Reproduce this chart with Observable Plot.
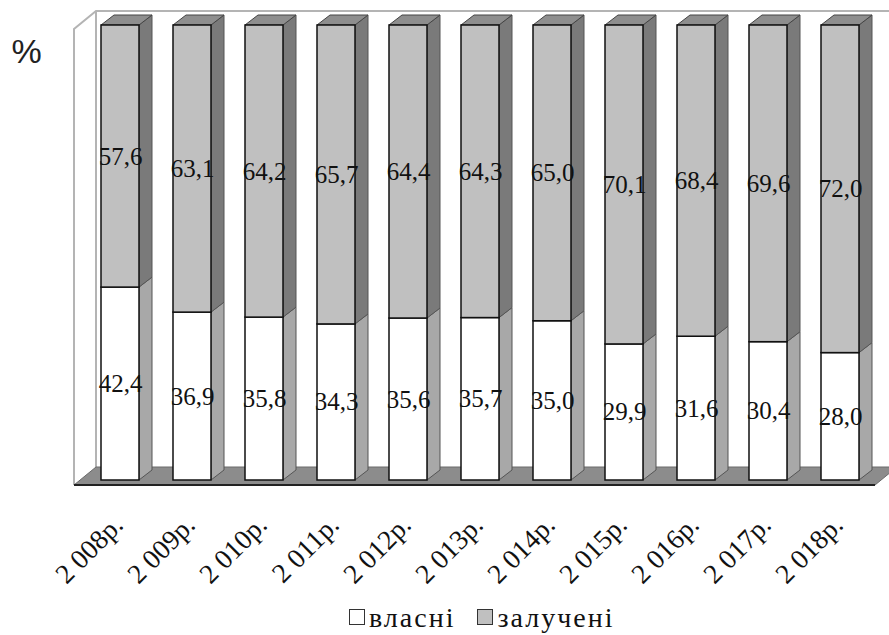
<!DOCTYPE html>
<html>
<head>
<meta charset="utf-8">
<script src="https://cdn.jsdelivr.net/npm/d3@7"></script>
<script src="https://cdn.jsdelivr.net/npm/@observablehq/plot@0.6"></script>
<style>
  html, body { margin: 0; padding: 0; background: #fff; }
  #wrap { position: relative; width: 889px; height: 635px; }
  #legend { position: absolute; left: 349px; top: 603px; height: 30px; font-family: "Liberation Serif", "Times New Roman", "DejaVu Serif", serif; font-size: 28px; letter-spacing: 2px; line-height: 30px; color: #111; display: flex; align-items: center; white-space: nowrap; }
  .sw { display: inline-block; width: 14px; height: 14px; border: 1.5px solid #333; margin-right: 4px; position: relative; top: -1px; }
</style>
</head>
<body>
<div id="wrap">
  <div id="chart"></div>
  <div id="legend">
    <span class="sw" style="background:#fff"></span><span>власні</span>
    <span style="display:inline-block;width:22px"></span>
    <span class="sw" style="background:#c0c0c0"></span><span>залучені</span>
  </div>
</div>
<script>
// Structure of financing sources, % (own vs. borrowed)
const years = ["2 008р.", "2 009р.", "2 010р.", "2 011р.", "2 012р.", "2 013р.", "2 014р.", "2 015р.", "2 016р.", "2 017р.", "2 018р."];
const own = [42.4, 36.9, 35.8, 34.3, 35.6, 35.7, 35.0, 29.9, 31.6, 30.4, 28.0];
const borrowed = [57.6, 63.1, 64.2, 65.7, 64.4, 64.3, 65.0, 70.1, 68.4, 69.6, 72.0];

const SERIF = "'Liberation Serif', 'Times New Roman', 'DejaVu Serif', serif";
const fmt = v => v.toFixed(1).replace(".", ",");

// stacked rows: own at the bottom, borrowed on top
const rows = years.map((year, i) => ({year, own: own[i], borrowed: borrowed[i]}));
const labels = rows.flatMap(r => [
  {year: r.year, mid: r.own / 2, value: r.own},
  {year: r.year, mid: r.own + r.borrowed / 2, value: r.borrowed}
]);

// depth offsets of the 3D look
const BAR_DX = 13, BAR_DY = -10;
const WALL_DX = 22, WALL_DY = -18;

function scene(index, scales) {
  const {x, y} = scales;
  const bw = x.bandwidth();
  const [r0, r1] = x.range();
  const g = d3.create("svg:g");
  const poly = pts => pts.map(p => p.join(",")).join(" ");

  // walls and floor
  const left = r0 - 24, right = r1 + 13;
  const floorFront = y(0) + 5, floorBack = floorFront + WALL_DY;
  const wallTop = y(100) + 4;
  g.append("polygon")
    .attr("points", poly([[left, floorFront], [left, wallTop], [left + WALL_DX, wallTop + WALL_DY], [right + 40, wallTop + WALL_DY], [right + 40, floorBack], [left + WALL_DX, floorBack]]))
    .attr("fill", "#fff");
  g.append("path")
    .attr("d", `M${left},${floorFront}V${wallTop}L${left + WALL_DX},${wallTop + WALL_DY}H${right + 40}M${left + WALL_DX},${wallTop + WALL_DY}V${floorBack}`)
    .attr("fill", "none").attr("stroke", "#b4b4b4").attr("stroke-width", 2);
  g.append("polygon")
    .attr("points", poly([[left, floorFront], [right, floorFront], [right + WALL_DX, floorBack], [left + WALL_DX, floorBack]]))
    .attr("fill", "#8c8c8c").attr("stroke", "#6a6a6a").attr("stroke-width", 1);
  g.append("line")
    .attr("x1", left).attr("x2", right).attr("y1", floorFront).attr("y2", floorFront)
    .attr("stroke", "#222").attr("stroke-width", 2);

  // bars
  for (const r of rows) {
    const x0 = x(r.year), x1 = x0 + bw;
    const yb = y(0), ym = y(r.own), yt = y(r.own + r.borrowed);
    const side = (ya, yb2, fill) => g.append("polygon")
      .attr("points", poly([[x1, ya], [x1 + BAR_DX, ya + BAR_DY], [x1 + BAR_DX, yb2 + BAR_DY], [x1, yb2]]))
      .attr("fill", fill).attr("stroke", "#555").attr("stroke-width", 1);
    side(yb, ym, "#a8a8a8");
    side(ym, yt, "#7a7a7a");
    g.append("polygon")
      .attr("points", poly([[x0, yt], [x0 + BAR_DX, yt + BAR_DY], [x1 + BAR_DX, yt + BAR_DY], [x1, yt]]))
      .attr("fill", "#8e8e8e").attr("stroke", "#444").attr("stroke-width", 1);
    g.append("rect").attr("x", x0).attr("y", ym).attr("width", bw).attr("height", yb - ym)
      .attr("fill", "#fff").attr("stroke", "#111").attr("stroke-width", 1.5);
    g.append("rect").attr("x", x0).attr("y", yt).attr("width", bw).attr("height", ym - yt)
      .attr("fill", "#c0c0c0").attr("stroke", "#111").attr("stroke-width", 1.5);
  }
  return g.node();
}

const chart = Plot.plot({
  width: 889,
  height: 590,
  marginTop: 0, marginLeft: 0, marginRight: 0, marginBottom: 0,
  x: {type: "band", domain: years, range: [98, 862], paddingInner: 0.477, paddingOuter: 0, axis: null},
  y: {domain: [0, 100], range: [480, 25], axis: null},
  style: {fontFamily: SERIF, background: "#fff"},
  marks: [
    scene,
    Plot.text(labels, {
      x: "year", y: "mid", text: d => fmt(d.value),
      fontSize: 25, fontFamily: SERIF, fill: "#111"
    }),
    // rotated year labels, anchored at their end just below each bar
    Plot.text(years, {
      x: d => d, y: () => 0, text: d => d,
      rotate: -45, textAnchor: "end", dx: -2, dy: 40,
      fontSize: 27.5, fontFamily: SERIF, fill: "#111"
    }),
    Plot.text(["%"], {
      frameAnchor: "top-left", text: d => d, dx: 11, dy: 38,
      lineAnchor: "top", textAnchor: "start",
      fontSize: 34, fontFamily: "'Liberation Sans', Arial, sans-serif", fill: "#222"
    })
  ]
});
document.getElementById("chart").appendChild(chart);
</script>
</body>
</html>
